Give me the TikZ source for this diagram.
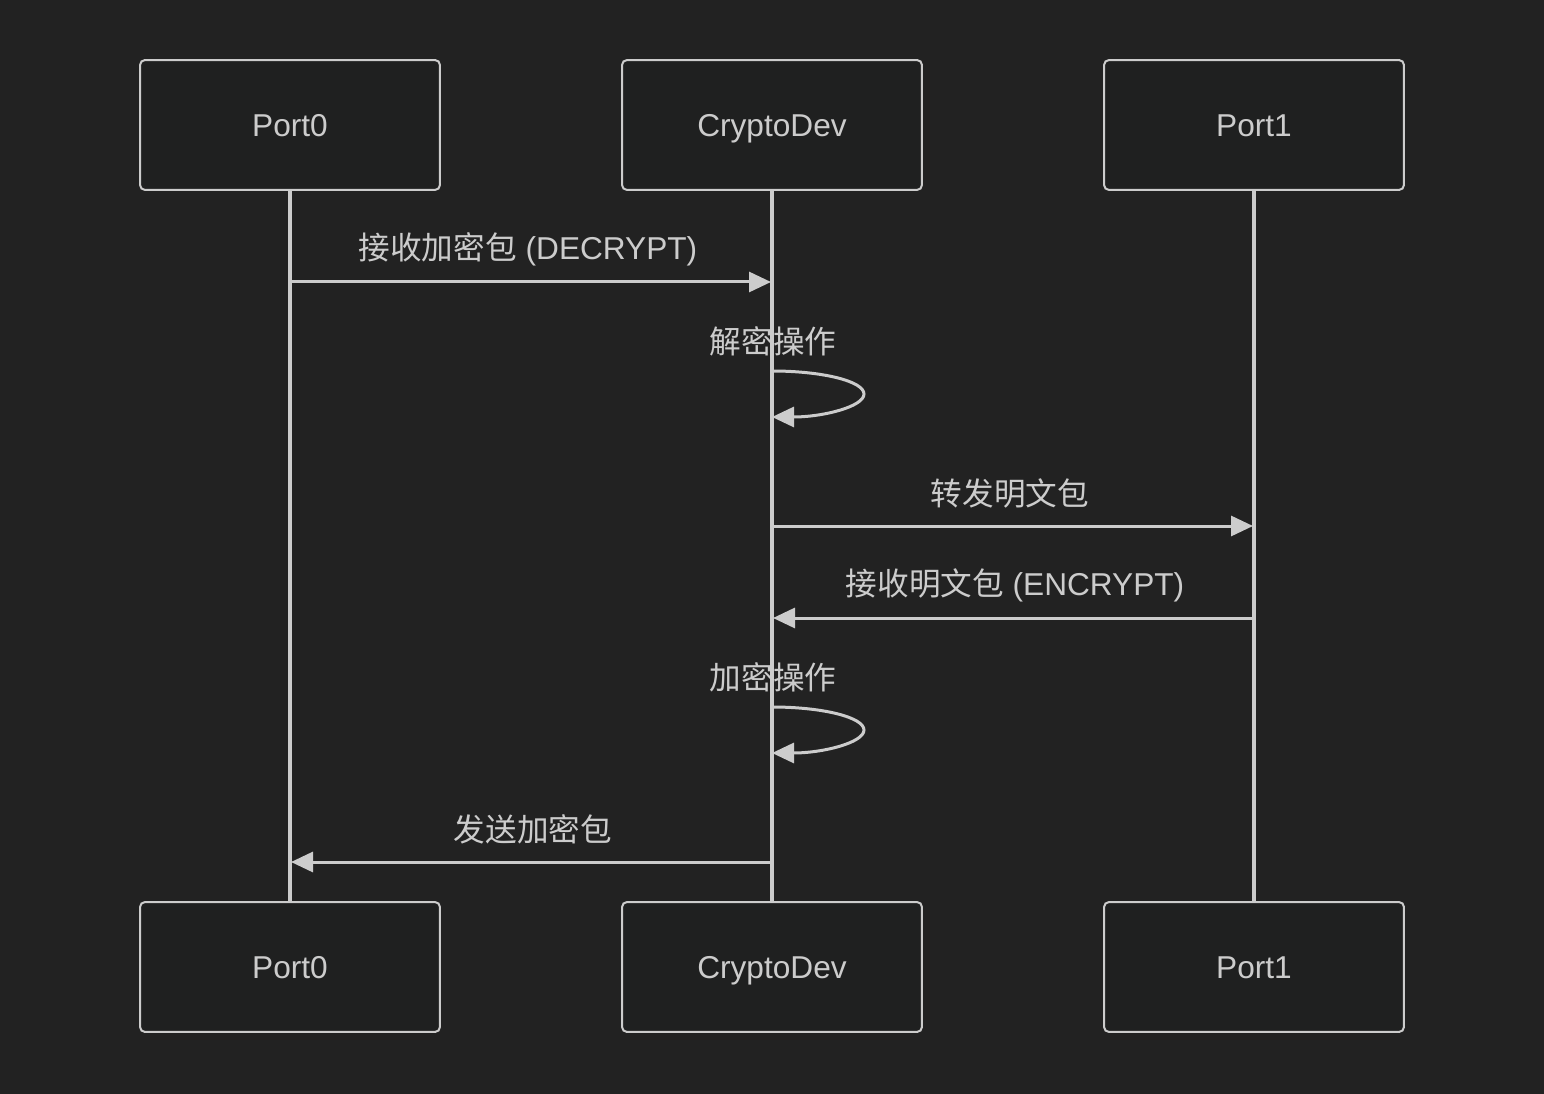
\documentclass[tikz,border=0pt]{standalone}
\usepackage{fontspec}
\setmainfont{Liberation Sans}
\newfontfamily\cjk{Noto Sans CJK SC}
\usetikzlibrary{arrows.meta,calc}
\definecolor{bgc}{HTML}{222222}
\definecolor{boxc}{HTML}{1F2020}
\definecolor{fgc}{HTML}{CCCCCC}
\newcommand{\zh}[1]{{\cjk #1}}

\tikzset{
  actor/.style={draw=fgc, fill=boxc, line width=0.04cm, rounded corners=0.1cm,
    minimum width=6cm, minimum height=2.6cm, text=fgc, text height=13pt, text depth=0pt,
    font=\fontsize{18}{20}\selectfont},
  life/.style={draw=fgc, line width=0.07cm},
  msg/.style={draw=fgc, line width=0.06cm, -{Triangle[length=0.44cm,width=0.4cm]}},
  lbl/.style={text=fgc, font=\fontsize{18}{20}\selectfont, inner sep=0pt}
}

\begin{document}
\begin{tikzpicture}[x=0.02cm, y=-0.02cm]
  \fill[bgc] (0,0) rectangle (1544,1094);
  \useasboundingbox (0,0) rectangle (1544,1094);

  % participants
  \node[actor] (p0top) at (290,125) {Port0};
  \node[actor] (cdtop) at (772,125) {CryptoDev};
  \node[actor] (p1top) at (1254,125) {Port1};
  \node[actor] (p0bot) at (290,967) {Port0};
  \node[actor] (cdbot) at (772,967) {CryptoDev};
  \node[actor] (p1bot) at (1254,967) {Port1};

  % lifelines
  \draw[life] (p0top) -- (p0bot);
  \draw[life] (cdtop) -- (cdbot);
  \draw[life] (p1top) -- (p1bot);

  % points on the lifelines
  \coordinate (a1) at (290,282);  \coordinate (b1) at (771,282);
  \coordinate (s1) at (772,371);  \coordinate (e1) at (772,417);
  \coordinate (b3) at (772,526);  \coordinate (c3) at (1253,526);
  \coordinate (c4) at (1254,618); \coordinate (b4) at (773,618);
  \coordinate (s2) at (772,707);  \coordinate (e2) at (772,753);
  \coordinate (b6) at (772,862);  \coordinate (a6) at (291,862);

  % messages
  \draw[msg] (a1) -- (b1);
  \node[lbl] (t1) at (528,249) {\zh{接收加密包} (DECRYPT)};

  \draw[msg] (s1) arc[start angle=-90, end angle=90, x radius=92, y radius=23];
  \node[lbl] (t2) at (773,341) {\zh{解密操作}};

  \draw[msg] (b3) -- (c3);
  \node[lbl] (t3) at (1010,493) {\zh{转发明文包}};

  \draw[msg] (c4) -- (b4);
  \node[lbl] (t4) at (1015,585) {\zh{接收明文包} (ENCRYPT)};

  \draw[msg] (s2) arc[start angle=-90, end angle=90, x radius=92, y radius=23];
  \node[lbl] (t5) at (773,677) {\zh{加密操作}};

  \draw[msg] (b6) -- (a6);
  \node[lbl] (t6) at (533,829) {\zh{发送加密包}};
\end{tikzpicture}
\end{document}
